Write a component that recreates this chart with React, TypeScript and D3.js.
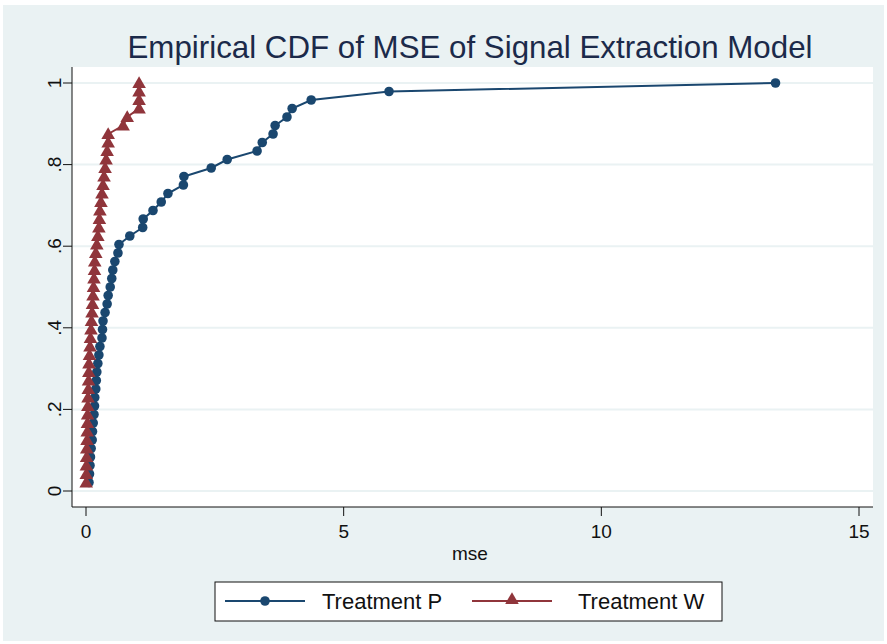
import React from "react";
import * as d3 from "d3";

const title = "Empirical CDF of MSE of Signal Extraction Model";
const xTicks = [0, 5, 10, 15];
const yTicks = [0, 0.2, 0.4, 0.6, 0.8, 1];
const yTickLabels = ["0", ".2", ".4", ".6", ".8", "1"];
const seriesNames = ["Treatment P", "Treatment W"];

// sorted MSE values (CDF step k/48)
const mseP = [
  0.058, 0.068, 0.078, 0.087, 0.1, 0.12, 0.126, 0.14, 0.155, 0.165,
  0.17, 0.19, 0.2, 0.21, 0.23, 0.25, 0.27, 0.31, 0.32, 0.33,
  0.37, 0.41, 0.43, 0.47, 0.5, 0.52, 0.56, 0.62, 0.64, 0.85,
  1.1, 1.11, 1.3, 1.46, 1.59, 1.89, 1.9, 2.43, 2.74, 3.32,
  3.42, 3.63, 3.67, 3.9, 4.0, 4.37, 5.88, 13.38,
];
const mseW = [
  0.004, 0.006, 0.008, 0.012, 0.015, 0.02, 0.024, 0.028, 0.032, 0.036,
  0.04, 0.045, 0.05, 0.055, 0.058, 0.068, 0.078, 0.087, 0.097, 0.107,
  0.117, 0.126, 0.136, 0.146, 0.155, 0.165, 0.17, 0.19, 0.21, 0.23,
  0.25, 0.26, 0.27, 0.29, 0.31, 0.33, 0.35, 0.37, 0.39, 0.41,
  0.43, 0.43, 0.72, 0.8, 1.03, 1.03, 1.03, 1.03,
];

const W = 887;
const H = 644;
const plot = { left: 72, right: 873, top: 67, bottom: 507 };

const colP = "#1a476f";
const colW = "#90353b";
const grid = "#eaf2f3";
const bg = "#eaf2f3";
const ink = "#111111";
const narrow = "'Liberation Sans Narrow', 'Arial Narrow', 'Liberation Sans', sans-serif";

export default function App() {
  const x = d3.scaleLinear().domain([0, 15]).range([86, 859]);
  const y = d3.scaleLinear().domain([0, 1]).range([491, 83]);

  const cdf = (vals: number[]) => vals.map((v, i) => ({ x: v, y: (i + 1) / vals.length }));
  const dataP = cdf(mseP);
  const dataW = cdf(mseW);
  const line = d3
    .line<{ x: number; y: number }>()
    .x((d) => x(d.x))
    .y((d) => y(d.y));

  const circle = d3.symbol().type(d3.symbolCircle).size(72)() as string;
  const tri = d3.symbol().type(d3.symbolTriangle).size(80)() as string;

  return (
    <svg
      width={W}
      height={H}
      style={{ position: "absolute", left: 0, top: 0, fontFamily: narrow }}
    >
      <rect x={0} y={0} width={W} height={H} fill="#ffffff" />
      <rect x={3} y={5} width={W - 6} height={H - 8} fill={bg} />
      <rect x={plot.left} y={plot.top} width={plot.right - plot.left} height={plot.bottom - plot.top} fill="#ffffff" />
      {yTicks.map((t) => (
        <line key={"g" + t} x1={plot.left} x2={plot.right} y1={y(t)} y2={y(t)} stroke={grid} strokeWidth={2} />
      ))}
      <text x={470} y={58} textAnchor="middle" fontSize={32} fill="#1b2a4a" textLength={685} lengthAdjust="spacingAndGlyphs">
        {title}
      </text>

      {/* y axis */}
      <line x1={plot.left} x2={plot.left} y1={plot.top} y2={plot.bottom} stroke={ink} strokeWidth={1} />
      {yTicks.map((t, i) => (
        <g key={"y" + t}>
          <line x1={plot.left - 9} x2={plot.left} y1={y(t)} y2={y(t)} stroke={ink} strokeWidth={1} />
          <text
            transform={`translate(${plot.left - 11},${y(t)}) rotate(-90)`}
            textAnchor="middle"
            fontSize={19}
            fill={ink}
          >
            {yTickLabels[i]}
          </text>
        </g>
      ))}

      {/* x axis */}
      <line x1={plot.left} x2={plot.right} y1={plot.bottom} y2={plot.bottom} stroke={ink} strokeWidth={1} />
      {xTicks.map((t) => (
        <g key={"x" + t}>
          <line x1={x(t)} x2={x(t)} y1={plot.bottom} y2={plot.bottom + 9} stroke={ink} strokeWidth={1} />
          <text x={x(t)} y={plot.bottom + 31} textAnchor="middle" fontSize={19} fill={ink}>
            {t}
          </text>
        </g>
      ))}
      <text x={470} y={560} textAnchor="middle" fontSize={19} fill={ink}>
        mse
      </text>

      {/* series P */}
      <path d={line(dataP) || ""} fill="none" stroke={colP} strokeWidth={2} />
      {dataP.map((d, i) => (
        <path key={"p" + i} d={circle} transform={`translate(${x(d.x)},${y(d.y)})`} fill={colP} />
      ))}
      {/* series W */}
      <path d={line(dataW) || ""} fill="none" stroke={colW} strokeWidth={2} />
      {dataW.map((d, i) => (
        <path key={"w" + i} d={tri} transform={`translate(${x(d.x)},${y(d.y) + 1})`} fill={colW} />
      ))}

      {/* legend */}
      <rect x={215} y={582} width={507} height={39} fill="#ffffff" stroke={ink} strokeWidth={1} />
      <line x1={225} x2={305} y1={601} y2={601} stroke={colP} strokeWidth={2} />
      <path d={circle} transform="translate(265,601)" fill={colP} />
      <text x={322} y={609} fontSize={22} fill={ink}>
        {seriesNames[0]}
      </text>
      <line x1={472} x2={552} y1={601} y2={601} stroke={colW} strokeWidth={2} />
      <path d={tri} transform="translate(512,600)" fill={colW} />
      <text x={578} y={609} fontSize={22} fill={ink}>
        {seriesNames[1]}
      </text>
    </svg>
  );
}
